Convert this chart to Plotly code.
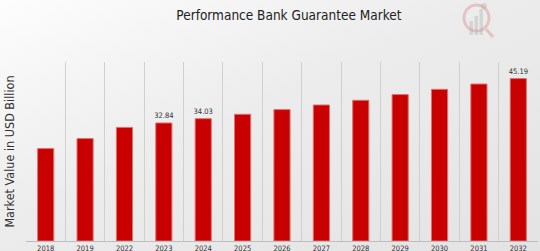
import plotly.graph_objects as go

years = ["2018", "2019", "2022", "2023", "2024", "2025", "2026", "2027",
         "2028", "2029", "2030", "2031", "2032"]
values = [25.71, 28.49, 31.6, 32.84, 34.03, 35.25, 36.56, 37.84,
          39.15, 40.73, 42.2, 43.68, 45.19]
label_years = {"2023", "2024", "2032"}
labels = [f"{v:.2f}" if y in label_years else "" for y, v in zip(years, values)]

W, H = 540, 251
ML, MR, MT, MB = 26, 2, 62, 10
PW, PH = W - ML - MR, H - MT - MB
FONT = "DejaVu Sans Condensed, DejaVu Sans"


def px(x):
    return (x - ML) / PW


def py(y):
    return (H - MB - y) / PH


bg_svg = (
    "data:image/svg+xml;utf8,"
    "<svg xmlns='http://www.w3.org/2000/svg' width='540' height='251' preserveAspectRatio='none'>"
    "<defs><linearGradient id='g' x1='0' y1='0' x2='1' y2='1'>"
    "<stop offset='0' stop-color='%23fdfdfd'/>"
    "<stop offset='0.45' stop-color='%23ececec'/>"
    "<stop offset='1' stop-color='%23e3e3e3'/>"
    "</linearGradient></defs>"
    "<rect width='540' height='251' fill='url(%23g)'/></svg>"
)

fig = go.Figure()
fig.add_trace(go.Bar(
    x=years, y=values,
    marker=dict(color="#c80000", line=dict(color="#e07070", width=1)),
    text=labels, textposition="outside", constraintext="none",
    textfont=dict(family=FONT, size=7.5, color="#333333"),
    cliponaxis=False,
))

fig.update_layout(
    width=W, height=H,
    margin=dict(l=ML, r=MR, t=MT, b=MB),
    paper_bgcolor="#ebebeb",
    plot_bgcolor="rgba(0,0,0,0)",
    bargap=0.59,
    showlegend=False,
    title=dict(text="Performance Bank Guarantee Market", x=0.535, xanchor="center",
               y=0.94, yanchor="middle",
               font=dict(family=FONT, size=13.5, color="#222222")),
    images=[dict(source=bg_svg, xref="paper", yref="paper", x=px(0), y=py(0),
                 sizex=W / PW, sizey=H / PH, xanchor="left", yanchor="top",
                 layer="below", sizing="stretch")],
    xaxis=dict(
        type="category", tickson="boundaries", automargin=False,
        showgrid=True, gridcolor="#d0d0d0", gridwidth=1,
        showline=True, linecolor="#bdbdbd", linewidth=1,
        ticks="", tickfont=dict(family=FONT, size=7.5, color="#333333"),
        ticklabelstandoff=0,
    ),
    yaxis=dict(
        range=[0, 49.8], showgrid=False, showticklabels=False, zeroline=False,
        automargin=False,
        title=dict(text="Market Value in USD Billion", standoff=7,
                   font=dict(family=FONT, size=12.5, color="#333333")),
    ),
)

# Faint logo at top right
shapes = []
shapes.append(dict(type="circle", xref="paper", yref="paper",
                   x0=px(464), x1=px(489), y0=py(31), y1=py(5),
                   line=dict(color="rgba(215,90,90,0.28)", width=3)))
shapes.append(dict(type="line", xref="paper", yref="paper",
                   x0=px(486), x1=px(493), y0=py(29), y1=py(37),
                   line=dict(color="rgba(215,90,90,0.28)", width=3)))
for x0, top in [(469.5, 21), (474.5, 16), (479.5, 9)]:
    shapes.append(dict(type="rect", xref="paper", yref="paper",
                       x0=px(x0), x1=px(x0 + 3.5), y0=py(35), y1=py(top),
                       fillcolor="rgba(170,170,170,0.35)", line=dict(width=0)))
shapes.append(dict(type="circle", xref="paper", yref="paper",
                   x0=px(481), x1=px(487), y0=py(9), y1=py(3),
                   fillcolor="rgba(170,170,170,0.35)", line=dict(width=0)))
fig.update_layout(shapes=shapes)

fig.write_html("out.html")
